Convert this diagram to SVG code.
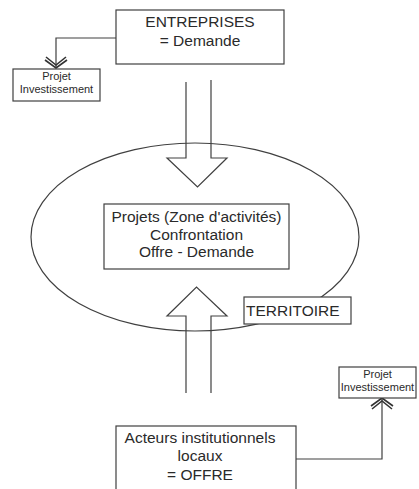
<svg xmlns="http://www.w3.org/2000/svg" width="419" height="489" viewBox="0 0 419 489">
<style>
  .box{fill:#fff;stroke:#404040;stroke-width:1.2}
  .ln{fill:none;stroke:#404040;stroke-width:1.2}
  .t{font-family:"Liberation Sans",Arial,sans-serif;font-size:15.5px;fill:#2a2a2a;text-anchor:middle}
  .s{font-family:"Liberation Sans",Arial,sans-serif;font-size:11px;fill:#2a2a2a;text-anchor:middle}
  .ah{fill:none;stroke:#333;stroke-width:1.6}
</style>
<rect width="419" height="489" fill="#fff"/>
<g id="territoire-ellipse">
  <ellipse cx="195" cy="237" rx="164" ry="94" class="ln"/>
</g>
<g id="connectors">
  <path class="ln" d="M186,82 L186,158 L167,158 L197.5,187 L227,158 L211,158 L211,80"/>
  <path class="ln" d="M186,393 L186,316 L167,316 L196.5,287 L227,316 L211,316 L211,393"/>
  <path class="ln" d="M116,38 L56,38 L56,68"/>
  <path class="ah" d="M45,60 L56,68 L67,60 M46,57 L56,65 L66,57"/>
  <path class="ln" d="M296,459 L382,459 L382,398"/>
  <path class="ah" d="M371,406 L382,398 L393,406 M372,409 L382,401 L392,409"/>
</g>
<g id="entreprises">
  <rect class="box" x="116" y="10" width="168" height="54"/>
  <text class="t" x="200" y="27">ENTREPRISES</text>
  <text class="t" x="200" y="46">= Demande</text>
</g>
<g id="projet-gauche">
  <rect class="box" x="13" y="69" width="87" height="32"/>
  <text class="s" x="56.5" y="80">Projet</text>
  <text class="s" x="56.5" y="93">Investissement</text>
</g>
<g id="projets-zone">
  <rect class="box" x="104" y="204" width="185" height="65"/>
  <text class="t" x="196.5" y="222">Projets (Zone d'activités)</text>
  <text class="t" x="196.5" y="239.5">Confrontation</text>
  <text class="t" x="196.5" y="257">Offre - Demande</text>
</g>
<g id="territoire">
  <rect class="box" x="244" y="297" width="107" height="27"/>
  <text class="t" x="246" y="316" style="text-anchor:start">TERRITOIRE</text>
</g>
<g id="projet-droite">
  <rect class="box" x="339" y="367" width="77" height="31"/>
  <text class="s" x="377.5" y="378">Projet</text>
  <text class="s" x="377.5" y="391">Investissement</text>
</g>
<g id="acteurs">
  <rect class="box" x="116" y="426" width="180" height="80"/>
  <text class="t" x="200" y="443">Acteurs institutionnels</text>
  <text class="t" x="200" y="461">locaux</text>
  <text class="t" x="200" y="480">= OFFRE</text>
</g>
</svg>
